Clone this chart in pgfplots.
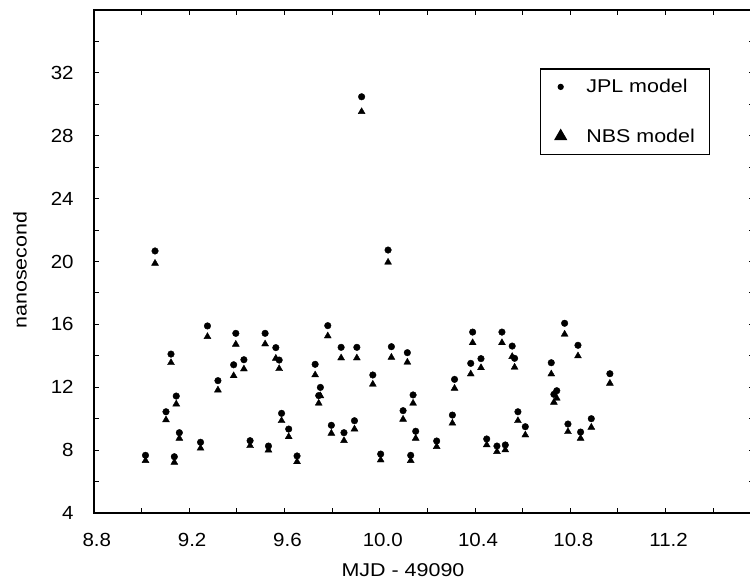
\documentclass[border=0pt]{standalone}
\usepackage{pgfplots}
\pgfplotsset{compat=1.18}
\usepackage{fontspec}
\setmainfont[FakeStretch=1.08]{Liberation Sans}
\newfontfamily\lblfont[FakeStretch=1.16]{Liberation Sans}
\pgfplotstableread{
x      jpl    nbs
9.017  7.67   7.33
9.057  20.67  19.88
9.103  10.44  9.92
9.124  14.11  13.56
9.138  7.58   7.22
9.146  11.44  10.93
9.159  9.11   8.75
9.248  8.50   8.12
9.277  15.90  15.22
9.321  12.42  11.82
9.387  13.43  12.73
9.396  15.43  14.73
9.430  13.75  13.16
9.456  8.60   8.28
9.519  15.43  14.75
9.533  8.26   8.00
9.564  14.52  13.84
9.578  13.73  13.18
9.588  10.34  9.87
9.618  9.34   8.85
9.653  7.63   7.26
9.729  13.46  12.78
9.744  11.47  10.98
9.751  11.99  11.45
9.782  15.92  15.26
9.797  9.58   9.07
9.838  14.54  13.86
9.850  9.11   8.60
9.894  9.87   9.34
9.904  14.54  13.86
9.924  30.48  29.53
9.971  12.78  12.19
10.004 7.75   7.37
10.035 20.73  19.95
10.049 14.58  13.90
10.098 10.51  9.96
10.116 14.20  13.59
10.130 7.67   7.33
10.140 11.51  10.98
10.151 9.20   8.75
10.239 8.58   8.22
10.305 10.23  9.71
10.314 12.50  11.93
10.382 13.52  12.84
10.390 15.51  14.83
10.425 13.82  13.24
10.449 8.71   8.33
10.492 8.26   7.90
10.513 15.51  14.83
10.527 8.33   8.01
10.556 14.62  13.95
10.566 13.84  13.27
10.580 10.44  9.87
10.611 9.49   8.96
10.720 13.56  12.84
10.731 11.55  11.04
10.743 11.78  11.30
10.776 16.07  15.37
10.790 9.66   9.17
10.832 14.67  13.99
10.843 9.15   8.75
10.888 10.00  9.45
10.966 12.86  12.25
}\datatable
\begin{document}
\begin{tikzpicture}
\useasboundingbox (0,0) rectangle (750bp,585bp);
\begin{axis}[
  at={(93.8bp,72bp)}, anchor=south west,
  width=660bp, height=503bp, scale only axis,
  xmin=8.8, xmax=11.57, ymin=4, ymax=36,
  xtick={8.8,9.2,9.6,10.0,10.4,10.8,11.2},
  minor xtick={9.0,9.4,9.8,10.2,10.6,11.0,11.4},
  ytick={4,8,12,16,20,24,28,32},
  minor ytick={6,10,14,18,22,26,30,34},
  tick align=inside,
  major tick length=5bp, minor tick length=5bp,
  every tick/.style={black, line width=1bp},
  axis line style={line width=1.5bp},
  /pgf/number format/assume math mode=true,
  xticklabel={\pgfmathprintnumber[fixed,fixed zerofill,precision=1]{\tick}},
  xticklabel style={inner sep=0pt, anchor=north, yshift=-20bp, xshift=3bp, font=\fontsize{19bp}{21bp}\selectfont},
  yticklabel style={inner sep=0pt, anchor=east, xshift=-20bp, font=\fontsize{19bp}{21bp}\selectfont},
  xlabel={MJD - 49090},
  ylabel={nanosecond},
  xlabel style={at={(axis description cs:0.4685,0)}, anchor=base, yshift=-63bp, inner sep=0pt, font=\lblfont\fontsize{18.5bp}{20bp}\selectfont},
  ylabel style={at={(axis description cs:-0.1118,0.483)}, anchor=center, rotate=0, inner sep=0pt, font=\lblfont\fontsize{18.5bp}{20bp}\selectfont},
  legend cell align=left,
  legend style={at={(0.676,0.884)}, anchor=north west, draw=black, line width=1.2bp,
    inner xsep=14.5bp, inner ysep=10.5bp, row sep=34.5bp,
    nodes={inner xsep=0bp, inner ysep=0bp},
    /tikz/every odd column/.append style={column sep=20bp},
    font=\lblfont\fontsize{18.5bp}{20bp}\selectfont},
]
\addplot[only marks, mark=*, mark size=3.3bp, black, legend image post style={mark size=2.5bp}] table[x=x, y=jpl] {\datatable};
\addlegendentry{JPL model\hspace{14bp}}
\addplot[only marks, mark=triangle*, mark size=4bp, black, legend image post style={mark size=6.5bp}] table[x=x, y=nbs] {\datatable};
\addlegendentry{NBS model\hspace{14bp}}
\end{axis}
\end{tikzpicture}
\end{document}
